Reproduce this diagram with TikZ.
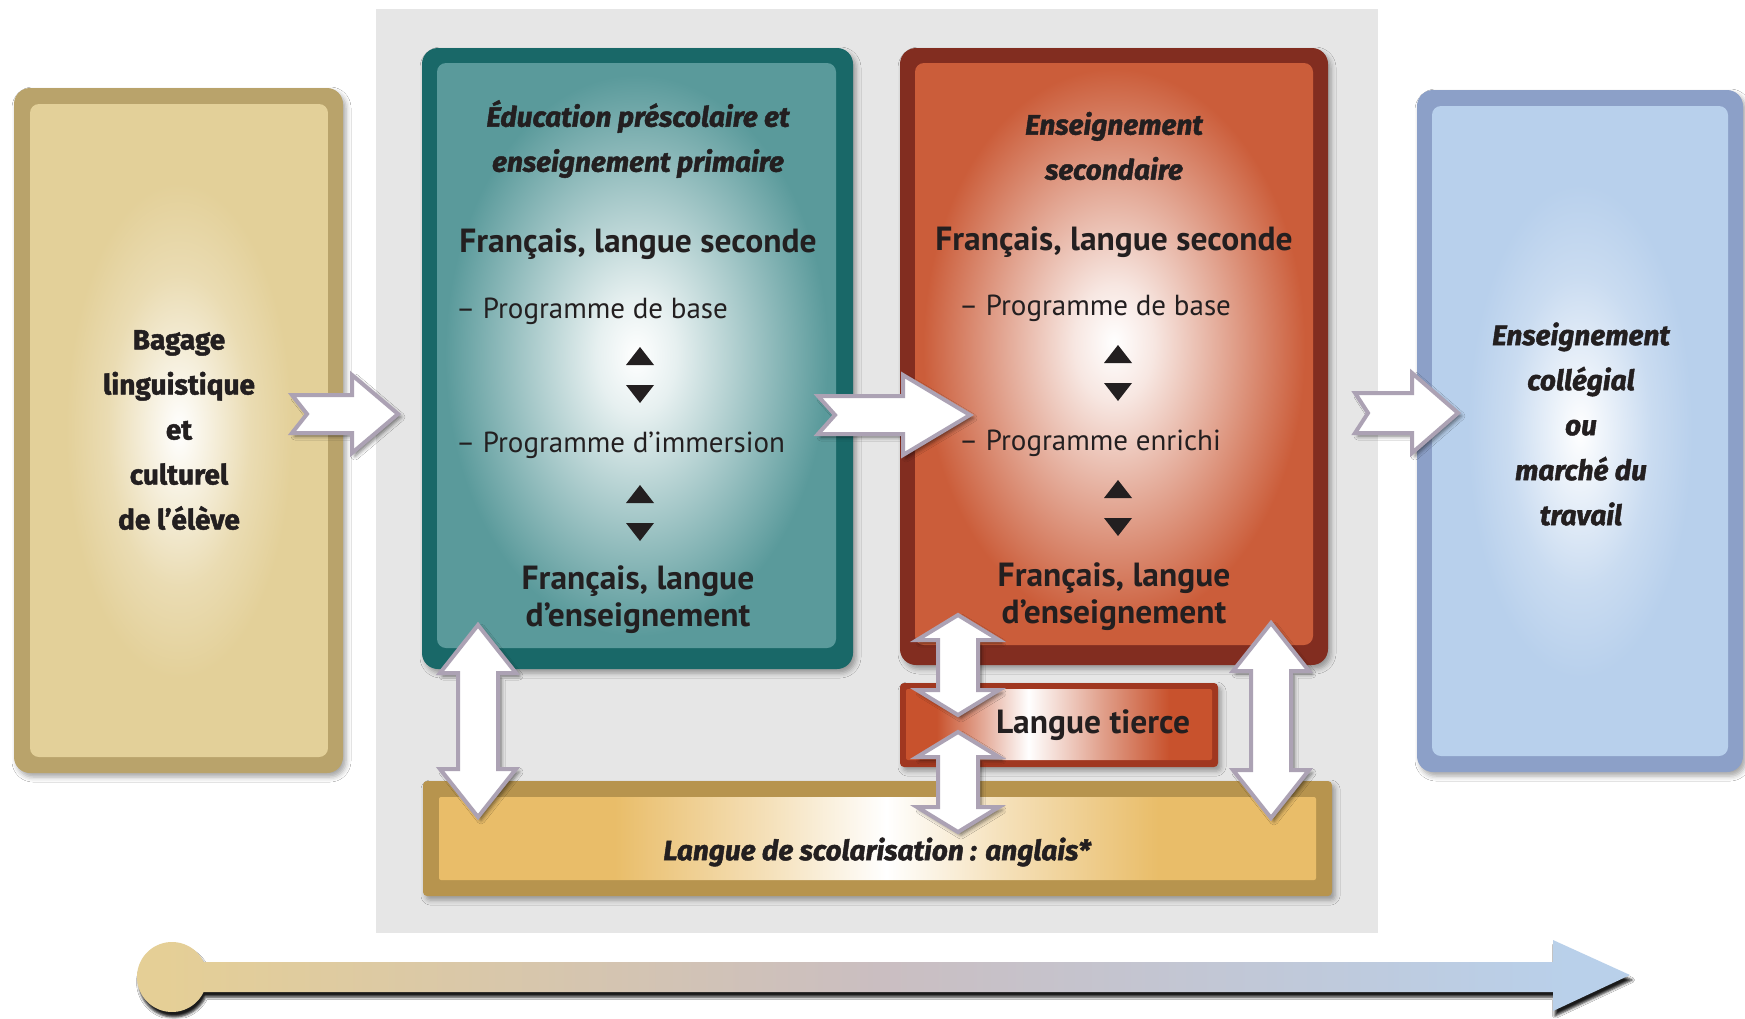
\documentclass[tikz,border=0pt]{standalone}
\usepackage{fontspec}
\setmainfont{PT Sans}
\newfontfamily\titlefont{Fira Sans}[BoldFeatures={FakeBold=1.6}, BoldItalicFeatures={FakeBold=1.6}]
\usetikzlibrary{calc,shadows.blur}

% palette
\definecolor{ink}{RGB}{35,31,32}
\definecolor{panelgray}{RGB}{230,230,230}
\definecolor{tanedge}{RGB}{185,163,107}
\definecolor{tanin}{RGB}{227,208,153}
\definecolor{tealedge}{RGB}{25,104,104}
\definecolor{tealin}{RGB}{90,154,155}
\definecolor{rededge}{RGB}{130,45,32}
\definecolor{redin}{RGB}{203,93,58}
\definecolor{blueedge}{RGB}{140,160,200}
\definecolor{bluein}{RGB}{184,208,236}
\definecolor{tieredge}{RGB}{160,55,32}
\definecolor{tierin}{RGB}{200,82,45}
\definecolor{baredge}{RGB}{183,148,78}
\definecolor{barin}{RGB}{233,189,105}
\definecolor{arrowedge}{RGB}{172,162,180}
\definecolor{tlstart}{RGB}{229,207,150}
\definecolor{tlmid}{RGB}{202,190,193}
\definecolor{tlend}{RGB}{185,208,234}

% glows for the box faces
\pgfdeclareradialshading{tanglow}{\pgfpoint{0bp}{0bp}}{color(0bp)=(white); color(4bp)=(tanin!25!white); color(12bp)=(tanin!75!white); color(19bp)=(tanin); color(50bp)=(tanin)}
\pgfdeclareradialshading{tealglow}{\pgfpoint{0bp}{0bp}}{color(0bp)=(white); color(5bp)=(tealin!15!white); color(14bp)=(tealin!55!white); color(24bp)=(tealin); color(50bp)=(tealin)}
\pgfdeclareradialshading{redglow}{\pgfpoint{0bp}{1bp}}{color(0bp)=(white); color(5bp)=(redin!15!white); color(14bp)=(redin!55!white); color(24bp)=(redin); color(50bp)=(redin)}
\pgfdeclareradialshading{blueglow}{\pgfpoint{0bp}{0bp}}{color(0bp)=(white); color(4bp)=(bluein!25!white); color(12bp)=(bluein!75!white); color(19bp)=(bluein); color(50bp)=(bluein)}
\pgfdeclarehorizontalshading{tierglow}{100bp}{color(0bp)=(tierin); color(30bp)=(tierin); color(45bp)=(white); color(57bp)=(tierin!55!white); color(68bp)=(tierin); color(100bp)=(tierin)}
\pgfdeclarehorizontalshading{barglow}{100bp}{color(0bp)=(barin); color(35bp)=(barin); color(44bp)=(barin!45!white); color(50.5bp)=(white); color(57bp)=(barin!45!white); color(66bp)=(barin); color(100bp)=(barin)}
\pgfdeclarehorizontalshading{timeline}{100bp}{color(0bp)=(tlstart); color(26bp)=(tlstart); color(50bp)=(tlmid); color(73bp)=(tlend); color(100bp)=(tlend)}

\tikzset{
  every node/.style={inner sep=0pt, outer sep=0pt, text=ink},
  boxedge/.style={rounded corners=16pt, blur shadow={shadow xshift=3pt, shadow yshift=-4pt, shadow opacity=35, shadow blur radius=5pt}},
  boxface/.style={shade, shading=#1, rounded corners=9pt},
  fatarrow/.style={fill=white, draw=arrowedge, line width=4pt, line join=miter,
    blur shadow={shadow xshift=3pt, shadow yshift=-3pt, shadow opacity=55, shadow blur radius=4pt}},
  casual/.style={font=\titlefont\bfseries\fontsize{28}{45}\selectfont, align=center},
  casualit/.style={font=\titlefont\bfseries\itshape\fontsize{28}{45}\selectfont, align=center},
  heading/.style={font=\bfseries\fontsize{33.5}{37}\selectfont, align=center},
  item/.style={font=\fontsize{29}{36}\selectfont, anchor=west},
  updown/.pic={
    \fill[ink] (0,-28) -- (14,-10) -- (-14,-10) -- cycle;
    \fill[ink] (0,28) -- (14,10) -- (-14,10) -- cycle;
  }
}

% one-way fat arrow with a notched tail: tail, tip, notch, head length, shaft half, head half
\newcommand\oneway[6]{%
  \draw[fatarrow] ($(#1)+(0,-#5)$) -- ($(#1)+(#3,0)$) -- ($(#1)+(0,#5)$)
    -- ($(#2)+(-#4,#5)$) -- ($(#2)+(-#4,#6)$) -- (#2) -- ($(#2)+(-#4,-#6)$)
    -- ($(#2)+(-#4,-#5)$) -- cycle;}
% two-way vertical fat arrow: top tip, bottom tip, head length, head half-width
\newcommand\twoway[4]{%
  \draw[fatarrow] (#1) -- ($(#1)+(#4,#3)$) -- ($(#1)+(20,#3)$) -- ($(#2)+(20,-#3)$)
    -- ($(#2)+(#4,-#3)$) -- (#2) -- ($(#2)+(-#4,-#3)$) -- ($(#2)+(-20,-#3)$)
    -- ($(#1)+(-20,#3)$) -- ($(#1)+(-#4,#3)$) -- cycle;}

\begin{document}
\begin{tikzpicture}[x=1pt, y=-1pt]
\useasboundingbox (0,0) rectangle (1745,1018);
\fill[white] (0,0) rectangle (1745,1018);

% grey school-years panel
\fill[panelgray] (376,9) rectangle (1378,933);

% box frames
\fill[tanedge, boxedge] (14,88) rectangle (343,773);
\fill[tealedge, boxedge] (422,48) rectangle (853,669);
\fill[rededge, boxedge] (900,48) rectangle (1328,665);
\fill[blueedge, boxedge] (1417,90) rectangle (1743,772);
\fill[baredge, boxedge, rounded corners=4pt] (423,781) rectangle (1332,896);

% box faces
\node[boxface=tanglow, minimum width=298pt, minimum height=653pt] (bagagebox) at (179,430.5) {};
\node[boxface=tealglow, minimum width=399pt, minimum height=585pt] (prim) at (636.5,355.5) {};
\node[boxface=redglow, minimum width=398pt, minimum height=582pt] (sec) at (1114,354) {};
\node[boxface=blueglow, minimum width=296pt, minimum height=650pt] (after) at (1580,431) {};
\node[shade, shading=barglow, rounded corners=2pt, minimum width=877pt, minimum height=83pt] (bar) at (877.5,838.5) {};

% third-language box
\fill[tieredge, boxedge, rounded corners=4pt] (900,683) rectangle (1218,767);
\node[shade, shading=tierglow, rounded corners=2pt, minimum width=306pt, minimum height=71pt] (tier) at (1059,724.5) {};

% timeline along the bottom
\shade[shading=timeline, blur shadow={shadow xshift=2pt, shadow yshift=-5pt, shadow opacity=90, shadow blur radius=2.5pt}]
  (203.6,962) -- (1553,962) -- (1553,940) -- (1630,975) -- (1553,1011) -- (1553,992) -- (203.6,992)
  arc[start angle=25.4, end angle=334.6, radius=35] -- cycle;

% connectors
\coordinate (t1) at (292,414);  \coordinate (h1) at (398,414);
\coordinate (t2) at (818,415);  \coordinate (h2) at (970,415);
\coordinate (t3) at (1355,413); \coordinate (h3) at (1458,413);
\oneway{t1}{h1}{15}{46}{19}{39}
\oneway{t2}{h2}{17}{67}{19}{40}
\oneway{t3}{h3}{13}{46}{20}{40}

\coordinate (v1a) at (478,625);  \coordinate (v1b) at (478,817);
\coordinate (v2a) at (958,615);  \coordinate (v2b) at (958,715);
\coordinate (v3a) at (958,732);  \coordinate (v3b) at (958,832);
\coordinate (v4a) at (1271,623); \coordinate (v4b) at (1271,818);
\twoway{v1a}{v1b}{48}{38}
\twoway{v2a}{v2b}{25}{41}
\twoway{v3a}{v3b}{25}{41}
\twoway{v4a}{v4b}{48}{38}

% texts
\node[casual] (bagage) at (179,430) {Bagage\\linguistique\\et\\culturel\\de l’élève};
\node[casualit] (college) at (1581,424) {Enseignement\\collégial\\ou\\marché du\\travail};

\node[casualit] (primtitle) at (638,139) {Éducation préscolaire et\\enseignement primaire};
\node[heading] (primfls) at (638,244) {Français, langue seconde};
\node[item] (primbase) at (456,311) {– Programme de base};
\pic at (640,375) {updown};
\node[item] (primimm) at (456,445.5) {– Programme d’immersion};
\pic at (640,513) {updown};
\node[heading] (primfle) at (638,599.5) {Français, langue\\d’enseignement};

\node[casualit] (sectitle) at (1114,146) {Enseignement\\secondaire};
\node[heading] (secfls) at (1114,242) {Français, langue seconde};
\node[item] (secbase) at (959,308.5) {– Programme de base};
\pic at (1118,373) {updown};
\node[item] (secenr) at (959,443.5) {– Programme enrichi};
\pic at (1118,508) {updown};
\node[heading] (secfle) at (1114,596.5) {Français, langue\\d’enseignement};

\node[heading] (tiertext) at (1093,725) {Langue tierce};
\node[casualit] (scol) at (877,852) {Langue de scolarisation : anglais*};
\end{tikzpicture}
\end{document}
